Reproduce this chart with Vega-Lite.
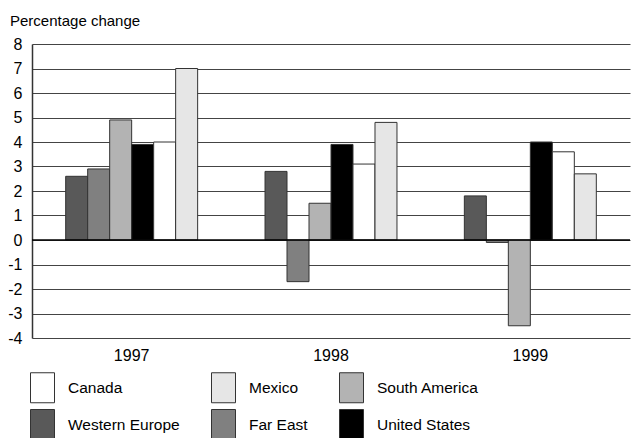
{
  "$schema": "https://vega.github.io/schema/vega-lite/v6.json",
  "width": 598,
  "height": 294,
  "autosize": "none",
  "padding": {"left": 32, "top": 44, "right": 9, "bottom": 100},
  "background": "white",
  "config": {
    "font": "Liberation Sans",
    "view": {"stroke": null}
  },
  "title": {
    "text": "Percentage change",
    "anchor": "start",
    "frame": "group",
    "dx": -22,
    "offset": 7,
    "fontSize": 15,
    "fontWeight": "normal",
    "color": "#000"
  },
  "data": {
    "values": [
      {"year": "1997", "region": "Western Europe", "value": 2.6},
      {"year": "1997", "region": "Far East", "value": 2.9},
      {"year": "1997", "region": "South America", "value": 4.9},
      {"year": "1997", "region": "United States", "value": 3.9},
      {"year": "1997", "region": "Canada", "value": 4.0},
      {"year": "1997", "region": "Mexico", "value": 7.0},
      {"year": "1998", "region": "Western Europe", "value": 2.8},
      {"year": "1998", "region": "Far East", "value": -1.7},
      {"year": "1998", "region": "South America", "value": 1.5},
      {"year": "1998", "region": "United States", "value": 3.9},
      {"year": "1998", "region": "Canada", "value": 3.1},
      {"year": "1998", "region": "Mexico", "value": 4.8},
      {"year": "1999", "region": "Western Europe", "value": 1.8},
      {"year": "1999", "region": "Far East", "value": -0.1},
      {"year": "1999", "region": "South America", "value": -3.5},
      {"year": "1999", "region": "United States", "value": 4.0},
      {"year": "1999", "region": "Canada", "value": 3.6},
      {"year": "1999", "region": "Mexico", "value": 2.7}
    ]
  },
  "layer": [
    {
      "mark": {"type": "bar", "stroke": "#333", "strokeWidth": 1},
      "encoding": {
        "x": {
          "field": "year",
          "type": "nominal",
          "scale": {"paddingInner": 0.338, "paddingOuter": 0.169},
          "axis": {
            "title": null,
            "labelAngle": 0,
            "labelFontSize": 16,
            "labelColor": "#000",
            "labelPadding": 9,
            "ticks": false,
            "domain": false
          }
        },
        "xOffset": {
          "field": "region",
          "type": "nominal",
          "scale": {
            "domain": ["Western Europe", "Far East", "South America", "United States", "Canada", "Mexico"],
            "paddingInner": 0,
            "paddingOuter": 0
          }
        },
        "y": {
          "field": "value",
          "type": "quantitative",
          "scale": {"domain": [-4, 8], "nice": false, "zero": false},
          "axis": {
            "title": null,
            "values": [-4, -3, -2, -1, 0, 1, 2, 3, 4, 5, 6, 7, 8],
            "labelExpr": "'' + datum.value",
            "labelOverlap": false,
            "labelFontSize": 16,
            "labelColor": "#000",
            "labelPadding": 10,
            "ticks": false,
            "domainColor": "#333",
            "domainWidth": 1.5,
            "gridColor": "#444",
            "gridWidth": 1
          }
        },
        "color": {
          "field": "region",
          "type": "nominal",
          "scale": {
            "domain": ["Canada", "Mexico", "South America", "Western Europe", "Far East", "United States"],
            "range": ["#ffffff", "#e6e6e6", "#b3b3b3", "#595959", "#808080", "#000000"]
          },
          "legend": {
            "title": null,
            "orient": "none",
            "legendX": -5,
            "legendY": 328,
            "direction": "horizontal",
            "columns": 3,
            "symbolType": "M-0.8,-1H0.8V1H-0.8Z",
            "symbolSize": 900,
            "symbolStrokeColor": "#333",
            "symbolStrokeWidth": 1,
            "symbolOpacity": 1,
            "labelFontSize": 15.5,
            "labelColor": "#000",
            "labelOffset": 10,
            "columnPadding": 28,
            "rowPadding": 2,
            "labelLimit": 300
          }
        }
      }
    },
    {
      "data": {"values": [{"v": 0}]},
      "mark": {"type": "rule", "color": "#000", "strokeWidth": 1.5},
      "encoding": {
        "y": {
          "field": "v",
          "type": "quantitative",
          "axis": {
            "title": null,
            "values": [-4, -3, -2, -1, 0, 1, 2, 3, 4, 5, 6, 7, 8],
            "labelExpr": "'' + datum.value",
            "labelOverlap": false,
            "labelFontSize": 16,
            "labelColor": "#000",
            "labelPadding": 10,
            "ticks": false,
            "domainColor": "#333",
            "domainWidth": 1.5,
            "gridColor": "#444",
            "gridWidth": 1
          }
        }
      }
    }
  ]
}
